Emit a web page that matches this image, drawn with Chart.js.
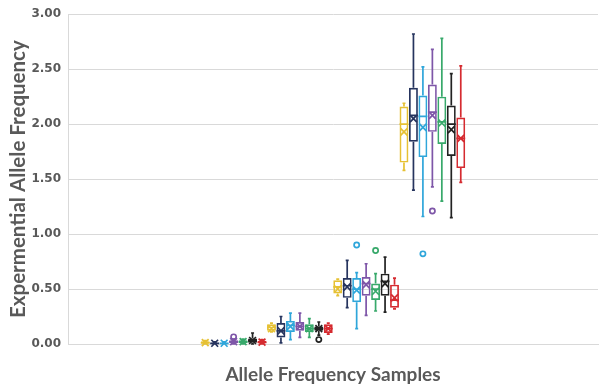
<!DOCTYPE html>
<html>
<head>
<meta charset="utf-8">
<script src="https://cdn.jsdelivr.net/npm/chart.js@4.4.1/dist/chart.umd.min.js"></script>
<style>
  html, body { margin: 0; padding: 0; background: #ffffff; }
  #wrap { width: 600px; height: 387px; position: relative; }
</style>
</head>
<body>
<div id="wrap"><canvas id="c" width="600" height="387"></canvas></div>
<script>
// Sample groups (the x axis keeps two empty slots on each side, as in the original)
const categories = ['Sample 1', 'Sample 2', 'Sample 3', 'Sample 4'];
const leadingSlots = 2;
const trailingSlots = 2;

const seriesNames = ['Series 1', 'Series 2', 'Series 3', 'Series 4', 'Series 5', 'Series 6', 'Series 7'];
const seriesColors = ['#E6C134', '#26345E', '#2FA6DA', '#7E56A8', '#38A96B', '#222222', '#D52B30'];

// Each entry: [min, q1, median, q3, max, mean] per sample group
const series1 = [[0.00, 0.005, 0.010, 0.025, 0.030, 0.013], [0.11, 0.12, 0.15, 0.18, 0.19, 0.14], [0.44, 0.46, 0.52, 0.58, 0.59, 0.50], [1.58, 1.65, 2.00, 2.16, 2.19, 1.93]];
const series2 = [[0.00, 0.002, 0.006, 0.012, 0.020, 0.007], [0.01, 0.06, 0.12, 0.19, 0.25, 0.12], [0.33, 0.42, 0.53, 0.60, 0.76, 0.52], [1.40, 1.84, 2.08, 2.33, 2.82, 2.05]];
const series3 = [[0.00, 0.002, 0.006, 0.012, 0.020, 0.007], [0.04, 0.11, 0.17, 0.21, 0.28, 0.16], [0.14, 0.38, 0.50, 0.60, 0.65, 0.49], [1.16, 1.70, 2.07, 2.26, 2.52, 1.97]];
const series4 = [[0.00, 0.010, 0.020, 0.035, 0.045, 0.022], [0.06, 0.12, 0.16, 0.20, 0.28, 0.16], [0.26, 0.44, 0.55, 0.61, 0.73, 0.54], [1.43, 1.93, 2.11, 2.36, 2.68, 2.08]];
const series5 = [[0.00, 0.008, 0.020, 0.035, 0.045, 0.022], [0.06, 0.11, 0.14, 0.18, 0.23, 0.14], [0.30, 0.40, 0.50, 0.55, 0.64, 0.48], [1.30, 1.82, 2.02, 2.25, 2.78, 2.01]];
const series6 = [[0.00, 0.012, 0.030, 0.050, 0.100, 0.032], [0.08, 0.12, 0.14, 0.16, 0.20, 0.14], [0.29, 0.44, 0.57, 0.64, 0.79, 0.55], [1.15, 1.71, 2.00, 2.17, 2.46, 1.95]];
const series7 = [[0.00, 0.006, 0.015, 0.030, 0.040, 0.017], [0.09, 0.10, 0.14, 0.18, 0.19, 0.14], [0.32, 0.33, 0.40, 0.54, 0.60, 0.42], [1.47, 1.60, 1.87, 2.06, 2.53, 1.87]];

// Outliers: [group index, value]
const outliers1 = [];
const outliers2 = [];
const outliers3 = [[2, 0.90], [3, 0.82]];
const outliers4 = [[0, 0.065], [3, 1.21]];
const outliers5 = [[2, 0.85]];
const outliers6 = [[1, 0.04]];
const outliers7 = [];

const yTicks = [0, 0.5, 1.0, 1.5, 2.0, 2.5, 3.0];
const yTitle = 'Expermential Allele Frequency';
const xTitle = 'Allele Frequency Samples';

const allStats = [series1, series2, series3, series4, series5, series6, series7];
const allOutliers = [outliers1, outliers2, outliers3, outliers4, outliers5, outliers6, outliers7];

const labels = [].concat(Array(leadingSlots).fill(''), categories, Array(trailingSlots).fill(''));

function pad(arr) {
  return [].concat(Array(leadingSlots).fill(null), arr, Array(trailingSlots).fill(null));
}

const LINE_W = 1.7;

const datasets = allStats.map((stats, i) => ({
  label: seriesNames[i],
  data: pad(stats.map(s => [s[1], s[3]])),
  stats: pad(stats),
  outliers: allOutliers[i],
  backgroundColor: 'rgba(255,255,255,0)',
  borderColor: seriesColors[i],
  borderWidth: LINE_W,
  borderSkipped: false,
  categoryPercentage: 1.0,
  barPercentage: 0.94
}));

const boxPlotPlugin = {
  id: 'boxPlotParts',
  afterDatasetsDraw(chart) {
    const ctx = chart.ctx;
    const yScale = chart.scales.y;
    chart.data.datasets.forEach((ds, di) => {
      const meta = chart.getDatasetMeta(di);
      const color = ds.borderColor;
      ctx.save();
      ctx.strokeStyle = color;
      ctx.lineWidth = LINE_W;
      meta.data.forEach((el, idx) => {
        const s = ds.stats[idx];
        if (!s) return;
        const x = el.x;
        const w = el.width;
        const yMin = yScale.getPixelForValue(s[0]);
        const yQ1 = yScale.getPixelForValue(s[1]);
        const yMed = yScale.getPixelForValue(s[2]);
        const yQ3 = yScale.getPixelForValue(s[3]);
        const yMax = yScale.getPixelForValue(s[4]);
        const yMean = yScale.getPixelForValue(s[5]);
        ctx.beginPath();
        // whiskers
        ctx.moveTo(x, yQ3); ctx.lineTo(x, yMax);
        ctx.moveTo(x, yQ1); ctx.lineTo(x, yMin);
        // caps
        ctx.moveTo(x - 1.5, yMax); ctx.lineTo(x + 1.5, yMax);
        ctx.moveTo(x - 1.5, yMin); ctx.lineTo(x + 1.5, yMin);
        // median
        ctx.moveTo(x - w / 2, yMed); ctx.lineTo(x + w / 2, yMed);
        // mean X
        const hw = w * 0.38, hh = 3.5;
        ctx.moveTo(x - hw, yMean - hh); ctx.lineTo(x + hw, yMean + hh);
        ctx.moveTo(x - hw, yMean + hh); ctx.lineTo(x + hw, yMean - hh);
        ctx.stroke();
      });
      // outliers
      ds.outliers.forEach(([g, v]) => {
        const el = meta.data[g + leadingSlots];
        if (!el) return;
        ctx.beginPath();
        ctx.arc(el.x, yScale.getPixelForValue(v), 2.6, 0, Math.PI * 2);
        ctx.stroke();
      });
      ctx.restore();
    });
  }
};

new Chart(document.getElementById('c'), {
  type: 'bar',
  data: { labels, datasets },
  plugins: [boxPlotPlugin],
  options: {
    responsive: false,
    animation: false,
    layout: { padding: { top: 8, right: 2, left: 0, bottom: 0 } },
    plugins: { legend: { display: false }, tooltip: { enabled: false } },
    scales: {
      x: {
        grid: { display: false },
        border: { display: true, color: '#D9D9D9', width: 1 },
        ticks: { display: false },
        title: {
          display: true, text: xTitle, color: '#595959',
          font: { family: 'Lato', weight: 'bold', size: 19 },
          padding: { top: 4, bottom: 1 }
        },
        afterFit(scale) { scale.height = 43; }
      },
      y: {
        min: 0, max: 3,
        afterBuildTicks(scale) { scale.ticks = yTicks.map(v => ({ value: v })); },
        grid: { color: '#D9D9D9', lineWidth: 1, drawTicks: false },
        border: { display: true, color: '#D9D9D9', width: 1 },
        ticks: {
          color: '#595959', padding: 7,
          font: { family: 'DejaVu Sans', weight: 'bold', size: 12 },
          callback: v => Number(v).toFixed(2)
        },
        title: {
          display: true, text: yTitle, color: '#595959',
          font: { family: 'Lato', weight: 'bold', size: 20.5 },
          padding: { top: 6, bottom: 2 }
        },
        afterFit(scale) { scale.width = 68; }
      }
    }
  }
});
</script>
</body>
</html>
